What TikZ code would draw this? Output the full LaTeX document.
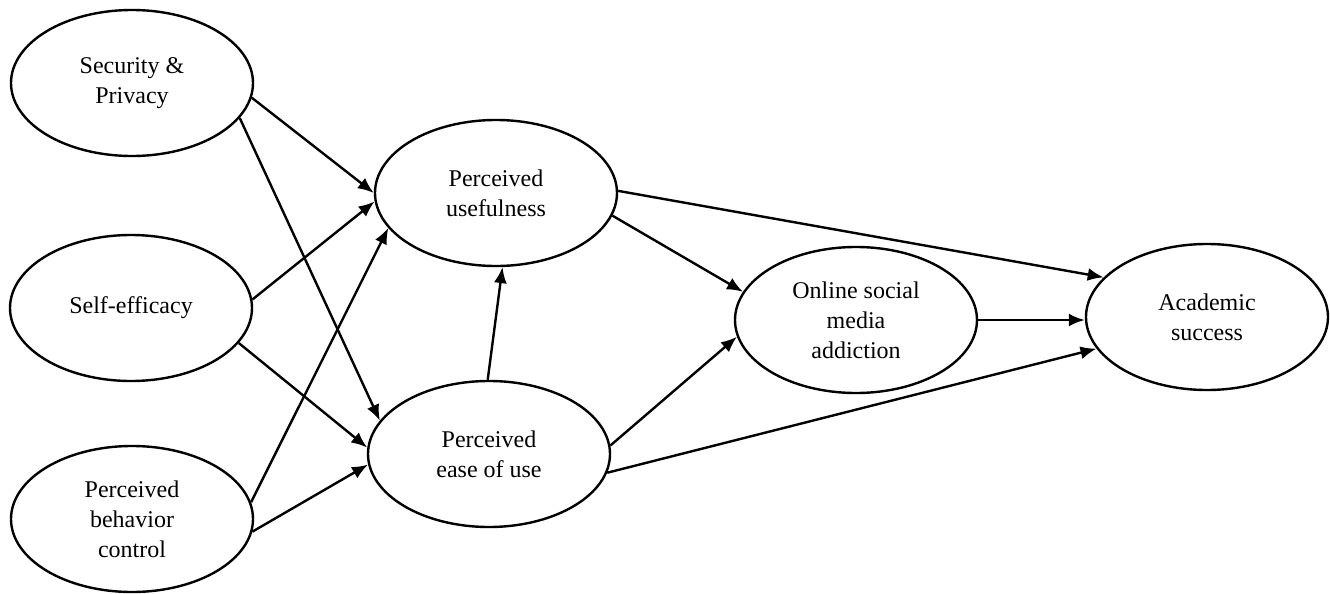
\documentclass[tikz,border=0pt]{standalone}
\usepackage{fontspec}
\setmainfont{Liberation Serif}
\usetikzlibrary{arrows.meta, shapes.geometric}

\tikzset{
  construct/.style={draw, ellipse, line width=1.2pt, minimum width=121pt, minimum height=73pt,
    align=center, font=\fontsize{12pt}{15pt}\selectfont},
  link/.style={line width=1.2pt, -{Latex[length=8pt,width=6.5pt]}}
}

\begin{document}
\begin{tikzpicture}[x=0.5pt, y=-0.5pt]
        \useasboundingbox (0,0) rectangle (1330,594);

        % constructs
        \node[construct] (sp) at (132,83) {Security \&\\Privacy};
        \node[construct] (se) at (131,308) {Self-efficacy};
        \node[construct] (pbc) at (132,519) {Perceived\\behavior\\control};
        \node[construct] (pu) at (496,193) {Perceived\\usefulness};
        \node[construct] (peou) at (489,454) {Perceived\\ease of use};
        \node[construct] (osma) at (856,320) {Online social\\media\\addiction};
        \node[construct] (as) at (1207,317) {Academic\\success};

        % paths
        \draw[link] (sp.-7) -- (pu.180);
        \draw[link] (sp.-18) -- (peou.163);
        \draw[link] (se.4) -- (pu.184);
        \draw[link] (se.-18) -- (peou.177);
        \draw[link] (pbc.8) -- (pu.198);
        \draw[link] (pbc.-6) -- (peou.185);
        \draw[link] (peou.91) -- (pu.275);
        \draw[link] (pu.1) -- (as.159);
        \draw[link] (pu.-11) -- (osma.166);
        \draw[link] (peou.4) -- (osma.188);
        \draw[link] (peou.-9) -- (as.196);
        \draw[link] (osma.east) -- (osma.east -| as.west);
    \end{tikzpicture}
\end{document}
